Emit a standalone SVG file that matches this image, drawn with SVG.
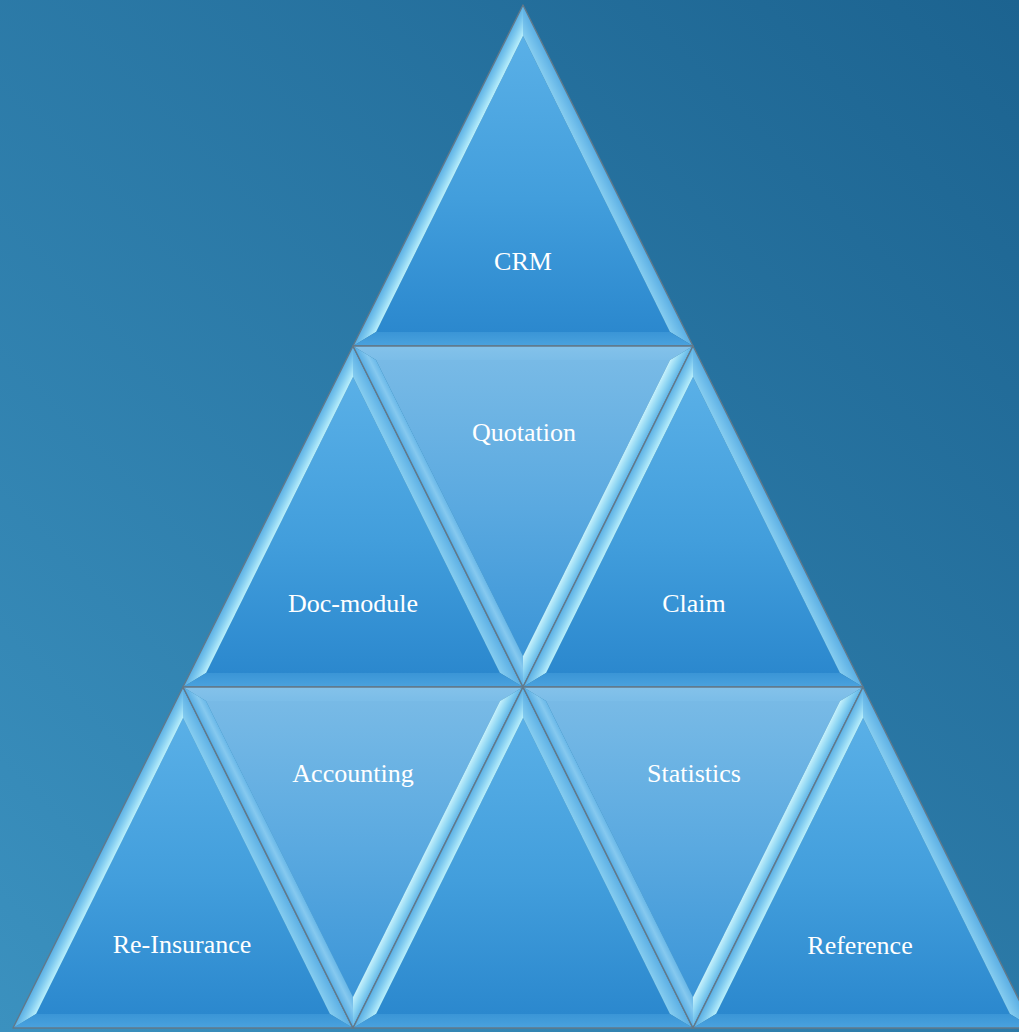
<svg xmlns="http://www.w3.org/2000/svg" xmlns:xlink="http://www.w3.org/1999/xlink" width="1019" height="1032" viewBox="0 0 1019 1032">
<defs>
<style>
.lbl{font-family:'Liberation Serif','Times New Roman',serif;font-size:26px;fill:#ffffff;text-anchor:middle;}
.edge{fill:none;stroke:#62798a;stroke-width:1.4;stroke-linejoin:round;}
</style>
<linearGradient id="bg" x1="1" y1="0" x2="0" y2="1">
<stop offset="0" stop-color="#1c6390"/>
<stop offset="1" stop-color="#3b91bf"/>
</linearGradient>
<linearGradient id="upFace" x1="0" y1="0" x2="0" y2="1">
<stop offset="0" stop-color="#5ab0e7"/>
<stop offset="0.55" stop-color="#429edc"/>
<stop offset="1" stop-color="#2b88ce"/>
</linearGradient>
<linearGradient id="upLeft" gradientUnits="userSpaceOnUse" x1="-85" y1="170.5" x2="-72.5" y2="176.7">
<stop offset="0" stop-color="#5aafe4"/>
<stop offset="0.45" stop-color="#7fcaef"/>
<stop offset="1" stop-color="#b8effc"/>
</linearGradient>
<linearGradient id="upRight" gradientUnits="userSpaceOnUse" x1="85" y1="170.5" x2="72.5" y2="176.7">
<stop offset="0" stop-color="#5aaee4"/>
<stop offset="1" stop-color="#86cdf0"/>
</linearGradient>
<linearGradient id="upBottom" gradientUnits="userSpaceOnUse" x1="0" y1="341" x2="0" y2="327">
<stop offset="0" stop-color="#4aa2de"/>
<stop offset="1" stop-color="#3a95d6"/>
</linearGradient>
<linearGradient id="dnFace" x1="0" y1="0" x2="0" y2="1">
<stop offset="0" stop-color="#78bae6"/>
<stop offset="0.5" stop-color="#5aa9e0"/>
<stop offset="1" stop-color="#3b95d7"/>
</linearGradient>
<linearGradient id="dnTop" gradientUnits="userSpaceOnUse" x1="0" y1="0" x2="0" y2="14">
<stop offset="0" stop-color="#84c2ea"/>
<stop offset="1" stop-color="#7bbde8"/>
</linearGradient>
<linearGradient id="dnLeft" gradientUnits="userSpaceOnUse" x1="-85" y1="170.5" x2="-72.5" y2="164.3">
<stop offset="0" stop-color="#58ade4"/>
<stop offset="0.6" stop-color="#86c9ef"/>
<stop offset="1" stop-color="#6ab8e8"/>
</linearGradient>
<linearGradient id="dnRight" gradientUnits="userSpaceOnUse" x1="85" y1="170.5" x2="72.5" y2="164.3">
<stop offset="0" stop-color="#5fb4e7"/>
<stop offset="0.5" stop-color="#8fd6f3"/>
<stop offset="1" stop-color="#c6f1fc"/>
</linearGradient>
<g id="tileUp">
<polygon points="0,31 -147,327 147,327" fill="url(#upFace)"/>
<polygon points="0,0 -170,341 -147,327 0,31" fill="url(#upLeft)"/>
<polygon points="0,0 170,341 147,327 0,31" fill="url(#upRight)"/>
<polygon points="-170,341 170,341 147,327 -147,327" fill="url(#upBottom)"/>
<polygon class="edge" points="0,0 -170,341 170,341"/>
</g>
<g id="tileDown">
<polygon points="-147,14 147,14 0,310" fill="url(#dnFace)"/>
<polygon points="-170,0 170,0 147,14 -147,14" fill="url(#dnTop)"/>
<polygon points="-170,0 0,341 0,310 -147,14" fill="url(#dnLeft)"/>
<polygon points="170,0 0,341 0,310 147,14" fill="url(#dnRight)"/>
<polygon class="edge" points="-170,0 170,0 0,341"/>
</g>
</defs>
<rect x="0" y="0" width="1019" height="1032" fill="url(#bg)"/>
<g id="connectors"/>
<g id="crm">
<use xlink:href="#tileUp" href="#tileUp" transform="translate(523,5)"/>
<text class="lbl" x="523" y="270">CRM</text>
</g>
<g id="doc-module">
<use xlink:href="#tileUp" href="#tileUp" transform="translate(353,346)"/>
<text class="lbl" x="353" y="612">Doc-module</text>
</g>
<g id="quotation">
<use xlink:href="#tileDown" href="#tileDown" transform="translate(523,346)"/>
<text class="lbl" x="524" y="441">Quotation</text>
</g>
<g id="claim">
<use xlink:href="#tileUp" href="#tileUp" transform="translate(693,346)"/>
<text class="lbl" x="694" y="612">Claim</text>
</g>
<g id="re-insurance">
<use xlink:href="#tileUp" href="#tileUp" transform="translate(183,687)"/>
<text class="lbl" x="182" y="953">Re-Insurance</text>
</g>
<g id="accounting">
<use xlink:href="#tileDown" href="#tileDown" transform="translate(353,687)"/>
<text class="lbl" x="353" y="782">Accounting</text>
</g>
<g id="center-bottom">
<use xlink:href="#tileUp" href="#tileUp" transform="translate(523,687)"/>
</g>
<g id="statistics">
<use xlink:href="#tileDown" href="#tileDown" transform="translate(693,687)"/>
<text class="lbl" x="694" y="782">Statistics</text>
</g>
<g id="reference">
<use xlink:href="#tileUp" href="#tileUp" transform="translate(863,687)"/>
<text class="lbl" x="860" y="954">Reference</text>
</g>
</svg>
